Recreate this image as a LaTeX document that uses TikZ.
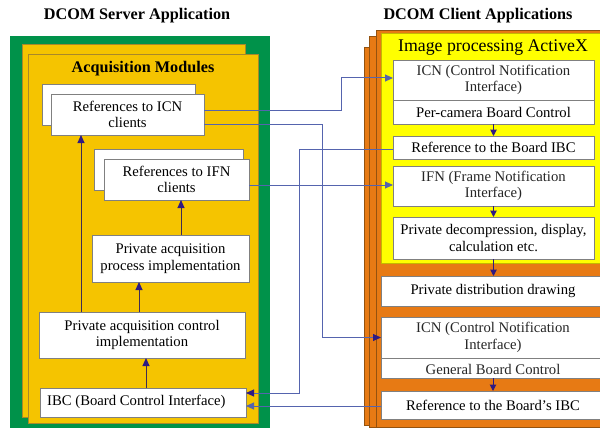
\documentclass[tikz,border=0pt]{standalone}
\usepackage{fontspec}
\setmainfont{Liberation Serif}
\usetikzlibrary{arrows.meta}

\definecolor{srvgreen}{HTML}{00924A}
\definecolor{srvyellow}{HTML}{F5C400}
\definecolor{srvedge}{HTML}{A8882A}
\definecolor{axyellow}{HTML}{FFFF00}
\definecolor{axedge}{HTML}{C4B800}
\definecolor{cliorange}{HTML}{E77A14}
\definecolor{oredge}{HTML}{94520F}
\definecolor{boxgray}{HTML}{808080}
\definecolor{connblue}{HTML}{5564AE}
\definecolor{navy}{HTML}{2E1A82}
\definecolor{inline}{HTML}{3E2C55}
\definecolor{softtext}{HTML}{262626}

\newcommand\bodyfont{\fontsize{14.7}{16.5}\selectfont}

\tikzset{
  rect/.style n args={4}{at={(#1,#2)}, anchor=north west,
    minimum width={(#3-#1)*1pt}, minimum height={(#4-#2)*1pt}},
  box/.style={draw=boxgray, fill=white, line width=0.8pt, inner sep=0pt,
    outer sep=0pt, align=center, font=\bodyfont},
  panel/.style={inner sep=0pt, outer sep=0pt, line width=0.7pt},
  title/.style={font=\fontsize{16.2}{18}\selectfont\bfseries},
  inarrow/.style={draw=inline, line width=1pt, -{Triangle[length=8pt,width=7pt,color=navy,fill=navy]}},
  conn/.style={draw=connblue, line width=1pt, -{Triangle[length=8pt,width=7pt,color=connblue,fill=connblue]}},
  connd/.style={draw=connblue, line width=1pt, -{Triangle[length=8pt,width=7pt,color=navy,fill=navy]}},
  dnarrow/.style={draw=navy, line width=1pt, -{Triangle[length=6.5pt,width=6.5pt,color=navy,fill=navy]}},
}

\begin{document}
\begin{tikzpicture}[x=1pt,y=-1pt]
\clip (0,0) rectangle (600,428);

% ---------------- server application ----------------
\node[title] (srvT) at (137,16) {DCOM Server Application};
\node[panel, fill=srvgreen, rect={10}{36}{270}{432}] (srvFrame) {};
\node[panel, fill=srvyellow, draw=srvedge, rect={22}{44}{245}{417}] (modBack) {};
\node[panel, fill=srvyellow, draw=srvedge, rect={28}{54}{258}{423}] (modFront) {};
\node[title] (modT) at (143,69) {Acquisition Modules};

\node[box, rect={42}{84}{195}{125}] (refICNb) {};
\node[box, rect={51}{94}{204}{135}] (refICN) {References to ICN\\clients};
\node[box, rect={94}{149}{243}{190}] (refIFNb) {};
\node[box, rect={104}{159}{249}{200}] (refIFN) {References to IFN\\clients};
\node[box, rect={92}{235}{249}{282}] (proc) {Private acquisition\\process implementation};
\node[box, rect={39}{312}{245}{358}] (ctrl) {Private acquisition control\\implementation};
\node[box, rect={40}{388}{246}{417}] (ibc) {};
\node[font=\bodyfont, anchor=west, inner sep=0pt] (ibcT) at (47,402) {IBC (Board Control Interface)};

\draw[inarrow] ([xshift=42pt]ctrl.north west) -- ([xshift=30pt]refICN.south west);
\draw[inarrow] ([xshift=100pt]ctrl.north west) -- ([xshift=47pt]proc.south west);
\draw[inarrow] ([xshift=89pt]proc.north west) -- ([xshift=77pt]refIFN.south west);
\draw[inarrow] ([xshift=106pt]ibc.north west) -- ([xshift=107pt]ctrl.south west);

% ---------------- client applications ----------------
\node[title] (cliT) at (478,16) {DCOM Client Applications};
\node[panel, fill=cliorange, draw=oredge, rect={364}{47}{610}{425}] (cliBack) {};
\node[panel, fill=cliorange, draw=oredge, rect={369}{36}{610}{427}] (cliMid) {};
\node[panel, fill=cliorange, draw=oredge, rect={376}{30}{610}{427}] (cliFront) {};
\node[panel, fill=axyellow, draw=axedge, rect={381}{33}{610}{263}] (activeX) {};
\node[font=\fontsize{17.8}{20}\selectfont] (axT) at (493,48) {Image processing ActiveX};

\node[box, text=softtext, rect={393}{60}{594}{100}] (icnC) {ICN (Control Notification\\Interface)};
\node[box, rect={393}{100}{594}{124}] (percam) {Per-camera Board Control};
\node[box, rect={393}{136}{594}{159}] (refIBC) {Reference to the Board IBC};
\node[box, text=softtext, rect={393}{166}{594}{206}] (ifnC) {IFN (Frame Notification\\Interface)};
\node[box, rect={393}{217}{594}{259}] (decomp) {Private decompression, display,\\calculation etc.};
\node[box, rect={381}{276}{604}{306}] (distrib) {};
\node[font=\bodyfont] (distribT) at (493,291) {Private distribution drawing};
\node[box, rect={381}{317}{604}{358}] (icn2) {};
\node[font=\bodyfont, text=softtext, align=center] (icn2T) at (493,337.5) {ICN (Control Notification\\Interface)};
\node[box, rect={381}{358}{604}{378}] (genctl) {};
\node[font=\bodyfont, text=softtext] (genctlT) at (493,369) {General Board Control};
\node[box, rect={381}{391}{604}{419}] (refIBC2) {};
\node[font=\bodyfont] (refIBC2T) at (493,405) {Reference to the Board's IBC};

\draw[dnarrow] (percam.south) -- (refIBC.north);
\draw[dnarrow] (ifnC.south) -- (decomp.north);
\draw[dnarrow] (decomp.south) -- (decomp.south |- distrib.north);
\draw[dnarrow] (genctlT.south |- genctl.south) -- (genctlT.south |- refIBC2.north);

% ---------------- interface connections ----------------
\draw[conn] ([yshift=4pt]refICN.east) -- ++(137,0) |- ([yshift=2pt]icnC.west);
\draw[connd] ([yshift=-9.5pt]refICN.east) -- ++(118,0) |- (icn2.west);
\draw[connd] ([yshift=-1.5pt]refIBC.west) -- ++(-94,0) |- ([yshift=9.5pt]ibc.east);
\draw[conn] ([yshift=-5.5pt]refIFN.east) -- ([yshift=1pt]ifnC.west);
\draw[conn] ([yshift=-1pt]refIBC2.west) -- ([yshift=-3.5pt]ibc.east);
\end{tikzpicture}
\end{document}
